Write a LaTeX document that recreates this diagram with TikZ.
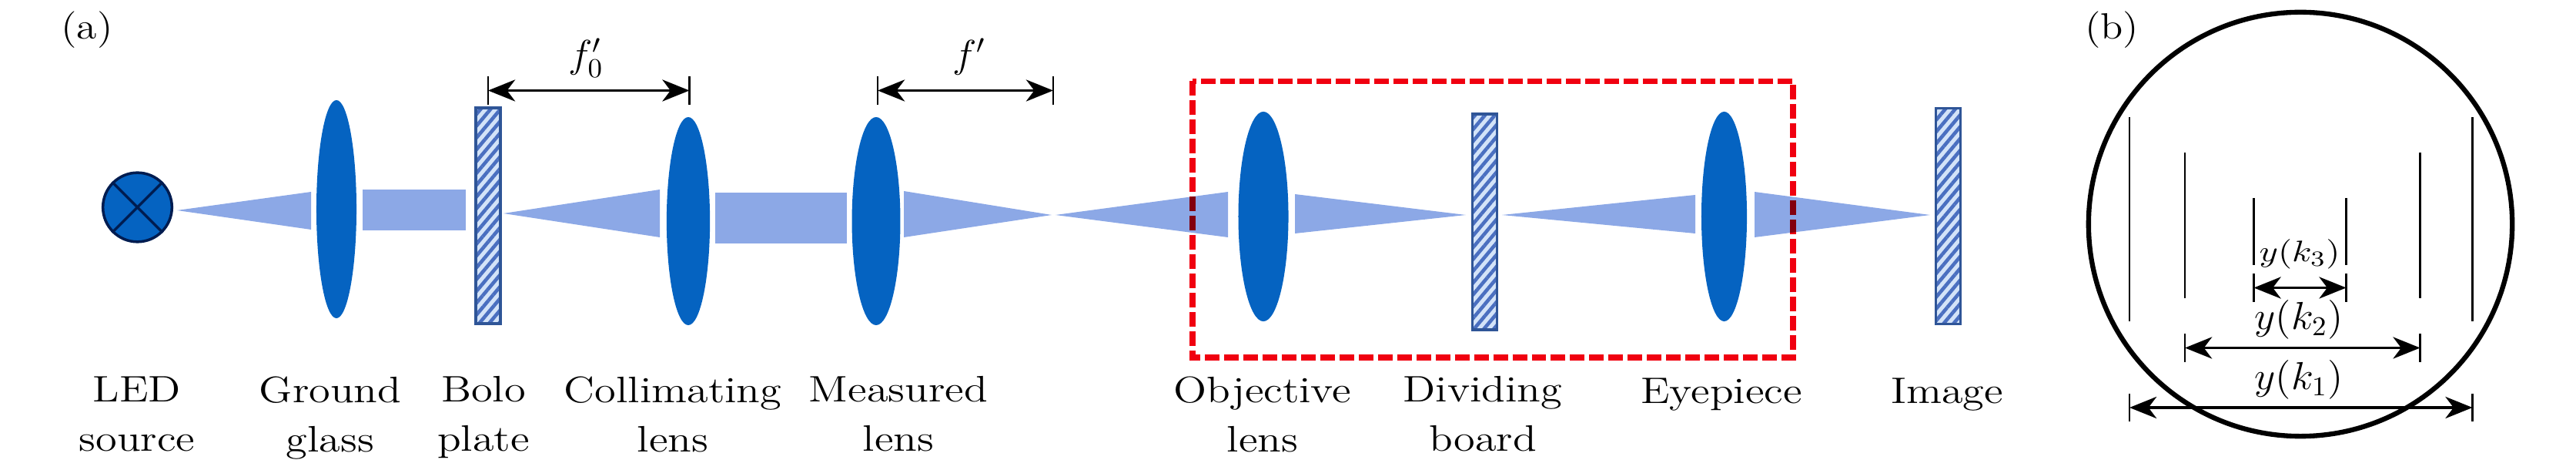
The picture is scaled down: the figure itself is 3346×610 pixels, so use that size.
\documentclass[tikz,border=0pt]{standalone}
\usepackage{amsmath}
\usepackage{tikz}
\usetikzlibrary{positioning,arrows.meta,shapes.geometric,patterns.meta}

\definecolor{lensblue}{HTML}{0563C1}
\definecolor{beamblue}{HTML}{8CA8E6}
\definecolor{plateedge}{HTML}{2F5597}
\definecolor{platefill}{HTML}{D3E3F8}
\definecolor{platehatch}{HTML}{4A6FC0}
\definecolor{ledline}{HTML}{001C50}
\definecolor{boxred}{HTML}{F00010}

\tikzset{
  lens/.style={ellipse, fill=lensblue, inner sep=0pt},
  plate/.style={rectangle, draw=plateedge, line width=1pt, inner sep=0pt,
    minimum width=9pt, minimum height=79.5pt,
    pattern={Lines[angle=50,distance=2.8pt,line width=1.3pt]}, pattern color=platehatch,
    preaction={fill=platefill}},
  beam/.style={fill=beamblue},
  partlabel/.style={font=\fontsize{13.5}{16}\selectfont, inner sep=0pt, anchor=base, xscale=1.13, transform shape},
  partname/.style={font=\fontsize{13.6}{18.2}\selectfont, align=center, inner sep=0pt, anchor=north,
    xscale=1.18, transform shape, execute at begin node={\rule{0pt}{10pt}}},
  dimlabel/.style={font=\fontsize{14.5}{16}\selectfont, inner sep=0pt, anchor=base, xscale=1.05, transform shape},
  dimarrow/.style={line width=0.95pt, {Stealth[length=10pt,width=8pt,inset=3pt]}-{Stealth[length=10pt,width=8pt,inset=3pt]}},
  dimtick/.style={line width=0.65pt},
  slit/.style={line width=0.7pt}
}

\begin{document}
\begin{tikzpicture}[x=0.01cm, y=-0.01cm]
  \useasboundingbox (0,0) rectangle (3346,610);

  % beams
  \fill[beam] (230,273) -- (404,249) -- (404,298) -- cycle;
  \fill[beam] (471,246) rectangle (605,299);
  \fill[beam] (654,277) -- (857,246) -- (857,308) -- cycle;
  \fill[beam] (929,250) rectangle (1100,316);
  \fill[beam] (1366,279) -- (1174,248) -- (1174,308) -- cycle;
  \fill[beam] (1371,279) -- (1595,249) -- (1595,308) -- cycle;
  \fill[beam] (1904,279) -- (1682,252) -- (1682,303) -- cycle;
  \fill[beam] (1951,279) -- (2202,253) -- (2202,303) -- cycle;
  \fill[beam] (2507,279) -- (2279,249) -- (2279,308) -- cycle;

  % light source
  \node[circle, fill=lensblue, draw=ledline, line width=1pt, inner sep=0pt, minimum size=25.5pt] (led) at (178.5,269) {};
  \draw[ledline, line width=1pt] (led.north west) -- (led.south east);
  \draw[ledline, line width=1pt] (led.north east) -- (led.south west);

  % lenses and plates
  \node[lens, minimum width=14.8pt, minimum height=80.5pt] (ground) at (437,271.5) {};
  \node[plate] (bolo) at (634,280) {};
  \node[lens, minimum width=16pt, minimum height=76.8pt] (collimating) at (894,287) {};
  \node[lens, minimum width=17.9pt, minimum height=76.8pt] (measured) at (1138,287) {};
  \node[lens, minimum width=18.5pt, minimum height=77.4pt] (objective) at (1641,281) {};
  \node[plate] (dividing) at (1928.5,288) {};
  \node[lens, minimum width=16.8pt, minimum height=77.4pt] (eyepiece) at (2239.5,281) {};
  \node[plate] (image) at (2530.5,280.5) {};

  % red box
  \draw[boxred, line width=2.1pt, dash pattern=on 5.4pt off 1.7pt, blend mode=multiply] (1549,105.5) rectangle (2329,464);

  % part names
  \node[partname] (ledname) at (178,488) {LED\\source};
  \node[partname] (groundname) at (429,488) {Ground\\glass};
  \node[partname] (boloname) at (628,488) {Bolo\\plate};
  \node[partname] (collimatingname) at (874,488) {Collimating\\lens};
  \node[partname] (measuredname) at (1167,488) {Measured\\lens};
  \node[partname] (objectivename) at (1640,488) {Objective\\lens};
  \node[partname] (dividingname) at (1926,488) {Dividing\\board};
  \node[partname] (eyepiecename) at (2236,488) {Eyepiece};
  \node[partname] (imagename) at (2529,488) {Image};

  % focal lengths
  \coordinate (f0a) at (634,117.5);
  \coordinate (f0b) at (895.5,117.5);
  \coordinate (fa) at (1140,117.5);
  \coordinate (fb) at (1368,117.5);
  \draw[dimarrow] (f0a) -- (f0b);
  \draw[dimarrow] (fa) -- (fb);
  \foreach \p in {f0a,f0b,fa,fb}
    \draw[dimtick] ([yshift=5.2pt]\p) -- ([yshift=-5.2pt]\p);
  \node[dimlabel] (f0lab) at (761,88) {$f_0'$};
  \node[dimlabel] (flab) at (1259,88) {$f'$};

  \node[partlabel] (alab) at (113,50.5) {(a)};
  \node[partlabel] (blab) at (2743,50.5) {(b)};

  % eyepiece view
  \node[circle, draw, line width=1.8pt, minimum size=156.5pt, inner sep=0pt] (view) at (2988,291) {};
  \draw[slit] (2766,152) -- (2766,417);
  \draw[slit] (3211.5,152) -- (3211.5,417);
  \draw[slit] (2838,198) -- (2838,387);
  \draw[slit] (3143.5,198) -- (3143.5,387);
  \draw[slit] (2927.5,257) -- (2927.5,344);
  \draw[slit] (3047.5,257) -- (3047.5,344);

  \coordinate (k3a) at (2927.5,373.5);
  \coordinate (k3b) at (3047.5,373.5);
  \coordinate (k2a) at (2838,451.5);
  \coordinate (k2b) at (3143.5,451.5);
  \coordinate (k1a) at (2766,529);
  \coordinate (k1b) at (3211.5,529);
  \foreach \a/\b in {k3a/k3b,k2a/k2b,k1a/k1b}{
    \draw[dimarrow] (\a) -- (\b);
    \draw[slit] ([yshift=5.2pt]\a) -- ([yshift=-5.2pt]\a);
    \draw[slit] ([yshift=5.2pt]\b) -- ([yshift=-5.2pt]\b);
  }
  \node[dimlabel, font=\fontsize{11.3}{13}\selectfont, xscale=1.15] (k3lab) at (2987,340) {$y(k_3)$};
  \node[dimlabel] (k2lab) at (2986,428) {$y(k_2)$};
  \node[dimlabel] (k1lab) at (2986,506) {$y(k_1)$};
\end{tikzpicture}
\end{document}
